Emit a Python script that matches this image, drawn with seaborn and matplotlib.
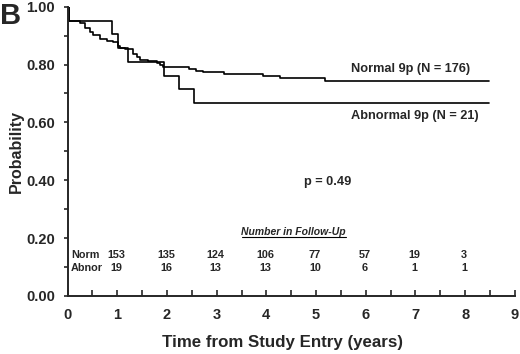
import numpy as np
import pandas as pd
import seaborn as sns
import matplotlib.pyplot as plt
from matplotlib.ticker import MultipleLocator

# Kaplan-Meier step points
norm_time = [0, 0.02, 0.25, 0.36, 0.46, 0.52, 0.65, 0.79, 0.92, 1.02, 1.05, 1.15, 1.32,
             1.39, 1.45, 1.62, 1.79, 1.85, 1.92, 2.45, 2.59, 2.72, 3.15, 3.93, 4.27, 5.19, 8.49]
norm_surv = [1.0, 0.951, 0.943, 0.928, 0.911, 0.902, 0.890, 0.882, 0.877, 0.865, 0.856, 0.854,
             0.837, 0.825, 0.817, 0.814, 0.806, 0.797, 0.791, 0.786, 0.779, 0.774, 0.768,
             0.761, 0.753, 0.743, 0.743]
abn_time = [0, 0.02, 0.90, 1.02, 1.22, 1.94, 2.25, 2.55, 8.49]
abn_surv = [1.0, 0.952, 0.905, 0.857, 0.810, 0.762, 0.714, 0.667, 0.667]

# number in follow-up table
fu_years = [1, 2, 3, 4, 5, 6, 7, 8]
fu_norm = [153, 135, 124, 106, 77, 57, 19, 3]
fu_abnor = [19, 16, 13, 13, 10, 6, 1, 1]

df = pd.concat([
    pd.DataFrame({'time': norm_time, 'surv': norm_surv, 'group': 'Normal'}),
    pd.DataFrame({'time': abn_time, 'surv': abn_surv, 'group': 'Abnormal'}),
])

sns.set_style('ticks')
plt.rcParams['font.family'] = ['Liberation Sans', 'DejaVu Sans']
plt.rcParams['font.weight'] = 'bold'

fig = plt.figure(figsize=(5.2, 3.54), dpi=100)
ax = fig.add_axes([0.130, 0.164, 0.860, 0.817])

sns.lineplot(data=df, x='time', y='surv', hue='group', units='group', estimator=None,
             drawstyle='steps-post', palette=['black', 'black'], linewidth=1.2,
             legend=False, ax=ax)

ax.set_xlim(0, 9)
ax.set_ylim(0, 1.0)
ax.set_xticks(range(0, 10))
ax.set_yticks([0, 0.2, 0.4, 0.6, 0.8, 1.0])
ax.set_yticklabels(['0.00', '0.20', '0.40', '0.60', '0.80', '1.00'])
ax.xaxis.set_minor_locator(MultipleLocator(0.5))
ax.yaxis.set_minor_locator(MultipleLocator(0.1))
ax.tick_params(axis='x', which='both', direction='in', length=4, width=1.2,
               labelsize=10.5, pad=9)
ax.tick_params(axis='y', which='both', direction='out', length=3, width=1.2,
               labelsize=10.5, pad=6)
for s in ['top', 'right']:
    ax.spines[s].set_visible(False)
for s in ['left', 'bottom']:
    ax.spines[s].set_linewidth(1.4)
ax.spines['left'].set_bounds(0, 1.0)

ax.set_xlabel('Time from Study Entry (years)', fontsize=12.2, fontweight='bold', labelpad=9)
ax.xaxis.set_label_coords(0.481, -0.135)
ax.set_ylabel('Probability', fontsize=11.5, fontweight='bold', labelpad=2)

ax.text(5.71, 0.786, 'Normal 9p (N = 176)', fontsize=9.2, fontweight='bold', va='center')
ax.text(5.71, 0.621, 'Abnormal 9p (N = 21)', fontsize=9.2, fontweight='bold', va='center')
ax.text(4.75, 0.393, 'p = 0.49', fontsize=9.2, fontweight='bold', va='center')

ax.text(4.55, 0.22, 'Number in Follow-Up', fontsize=7.5, fontweight='bold',
        style='italic', ha='center', va='center')
ax.plot([3.5, 5.6], [0.204, 0.204], color='black', linewidth=0.8)
ax.text(0.07, 0.141, 'Norm', fontsize=7.8, fontweight='bold', va='center')
ax.text(0.07, 0.097, 'Abnor', fontsize=7.8, fontweight='bold', va='center')
for yr, n1, n2 in zip(fu_years, fu_norm, fu_abnor):
    ax.text(yr - 0.02, 0.141, str(n1), fontsize=7.8, fontweight='bold', ha='center', va='center')
    ax.text(yr - 0.02, 0.097, str(n2), fontsize=7.8, fontweight='bold', ha='center', va='center')

fig.text(0.0, 0.995, 'B', fontsize=21, fontweight='bold', ha='left', va='top')

fig.savefig('out.png', dpi=100)
